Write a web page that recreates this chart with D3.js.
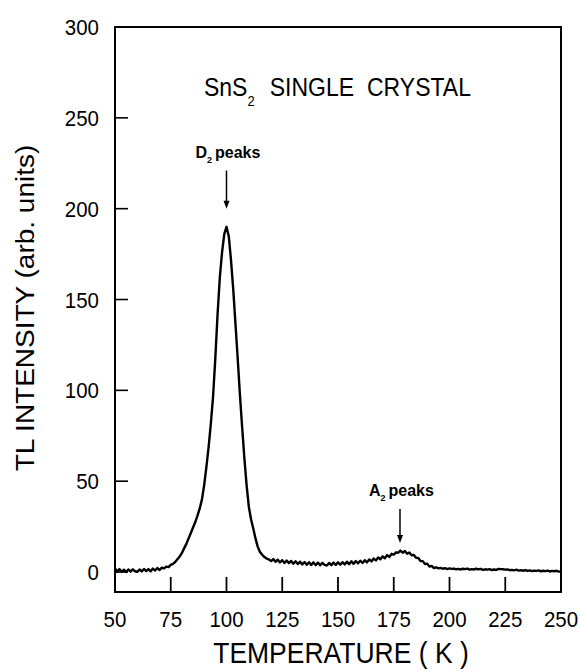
<!DOCTYPE html>
<html>
<head>
<meta charset="utf-8">
<script src="https://cdn.jsdelivr.net/npm/d3@7"></script>
<style>
  body { margin: 0; background: #fff; }
  svg text { font-family: "Liberation Sans", Arial, Helvetica, sans-serif; fill: #000; }
</style>
</head>
<body>
<svg id="chart" width="580" height="671"></svg>
<script>
// TL glow curve, one reading per kelvin starting at 50 K
var tempStart = 50, tempStep = 1;
var intensity = [
  2.0, 0.3, 1.6, 0.1, 1.3, 0.0, 1.4, 0.2, 1.5, 0.4,
  0.1, 1.4, 0.3, 1.7, 0.5, 1.6, 0.4, 1.9, 0.8, 2.2,
  1.1, 2.4, 2.0, 3.0, 2.7, 3.9, 4.5, 5.5, 7.0, 8.5,
  10.5, 13.0, 15.5, 18.5, 21.5, 24.5, 27.5, 31.0, 35.0, 40.0,
  48.0, 58.0, 69.0, 82.0, 97.0, 118.0, 142.0, 162.0, 176.0, 186.0,
  190.0, 185.0, 172.0, 156.0, 137.0, 118.0, 98.0, 80.0, 63.0, 48.0,
  36.0, 29.0, 24.0, 18.5, 14.0, 11.0, 9.5, 8.2, 7.4, 6.9,
  6.0, 7.1, 5.6, 6.8, 5.3, 6.5, 5.0, 6.3, 4.9, 6.1,
  4.6, 5.9, 4.4, 5.7, 4.2, 5.5, 4.0, 5.4, 3.9, 5.3,
  3.8, 5.2, 3.7, 5.0, 3.9, 3.6, 5.0, 3.8, 5.2, 3.9,
  5.3, 4.0, 5.4, 4.2, 5.7, 4.3, 5.9, 4.5, 6.0, 4.8,
  6.2, 5.0, 6.5, 5.3, 6.9, 5.8, 7.4, 6.4, 8.0, 7.0,
  8.6, 7.6, 9.3, 8.3, 10.0, 9.5, 10.8, 10.6, 11.8, 10.6,
  11.6, 10.1, 10.7, 9.2, 9.4, 7.8, 7.7, 6.1, 6.0, 4.4,
  4.6, 3.0, 3.4, 2.2, 2.6, 2.0, 2.3, 1.8, 2.1, 1.6,
  2.0, 1.7, 1.9, 1.5, 1.7, 1.4, 1.8, 1.6, 1.9, 1.3,
  1.6, 1.4, 1.8, 1.5, 1.7, 1.2, 1.5, 1.3, 1.6, 1.1,
  1.4, 1.2, 1.7, 1.6, 1.5, 1.3, 1.4, 1.0, 1.2, 0.9,
  1.3, 0.8, 1.0, 0.7, 1.1, 0.6, 0.9, 0.5, 0.8, 0.6,
  0.9, 0.4, 0.7, 0.5, 0.8, 0.3, 0.6, 0.4, 0.7, 0.2,
  0.3
];
var xTicks = [50, 75, 100, 125, 150, 175, 200, 225, 250];
var yTicks = [0, 50, 100, 150, 200, 250, 300];
// arrow annotations: temperature, arrow top and tip (intensity units)
var peakNames = ["D", "A"];
var peakTemps = [100, 177.8];
var arrowTop = [221, 34.7];
var arrowTip = [200, 16];

(function () {
  "use strict";
  var svg = d3.select('#chart');
  var stretch = 1.12; // the scanned figure is a bit taller than wide

  var x = d3.scaleLinear().domain([50, 250]).range([115, 561]);
  var y = d3.scaleLinear().domain([-11, 300]).range([592, 27]);

  var points = intensity.map(function (v, i) { return [tempStart + i * tempStep, v]; });

  // frame
  svg.append('rect')
      .attr('x', x(50)).attr('y', y(300))
      .attr('width', x(250) - x(50)).attr('height', y(-11) - y(300))
      .attr('fill', 'none').attr('stroke', '#000').attr('stroke-width', 2);

  // inward ticks
  svg.selectAll('.xtick').data(xTicks).enter().append('line')
      .attr('class', 'xtick')
      .attr('x1', function (d) { return x(d); }).attr('x2', function (d) { return x(d); })
      .attr('y1', y(-11)).attr('y2', y(-11) - 15)
      .attr('stroke', '#000').attr('stroke-width', 1.8);
  svg.selectAll('.ytick').data(yTicks.slice(0, -1)).enter().append('line')
      .attr('class', 'ytick')
      .attr('x1', x(50)).attr('x2', x(50) + 13)
      .attr('y1', function (d) { return y(d); }).attr('y2', function (d) { return y(d); })
      .attr('stroke', '#000').attr('stroke-width', 1.6);

  // tick labels
  svg.selectAll('.xlab').data(xTicks).enter().append('text')
      .attr('class', 'xlab')
      .attr('transform', function (d) { return 'translate(' + x(d) + ',627) scale(1,' + stretch + ')'; })
      .attr('text-anchor', 'middle')
      .style('font-size', '20.5px')
      .text(function (d) { return d; });
  svg.selectAll('.ylab').data(yTicks).enter().append('text')
      .attr('class', 'ylab')
      .attr('transform', function (d) { return 'translate(99,' + (y(d) + 8) + ') scale(1,' + stretch + ')'; })
      .attr('text-anchor', 'end')
      .style('font-size', '20.5px')
      .text(function (d) { return d; });

  // axis titles
  svg.append('text')
      .attr('transform', 'translate(341,663) scale(1,' + stretch + ')')
      .attr('text-anchor', 'middle')
      .style('font-size', '26.5px')
      .text('TEMPERATURE ( K )');
  svg.append('text')
      .attr('transform', 'translate(34,308) rotate(-90) scale(' + stretch + ',1)')
      .attr('text-anchor', 'middle')
      .style('font-size', '25px')
      .text('TL INTENSITY (arb. units)');

  // chart title with subscript
  var title = svg.append('text')
      .attr('transform', 'translate(204,96) scale(1,' + stretch + ')')
      .style('font-size', '23px');
  title.append('tspan').text('SnS');
  title.append('tspan').attr('dy', 9).style('font-size', '13px').text('2');
  title.append('tspan').attr('dy', -9).attr('dx', 15).text('SINGLE');
  title.append('tspan').attr('dx', 13).text('CRYSTAL');

  // glow curve
  var line = d3.line()
      .x(function (d) { return x(d[0]); })
      .y(function (d) { return y(d[1]); });
  svg.append('path')
      .datum(points)
      .attr('d', line)
      .attr('fill', 'none')
      .attr('stroke', '#000')
      .attr('stroke-width', 2.4)
      .attr('stroke-linejoin', 'round');

  // peak arrows and labels
  peakNames.forEach(function (name, i) {
    var px = x(peakTemps[i]), top = y(arrowTop[i]), tip = y(arrowTip[i]);
    svg.append('line')
        .attr('x1', px).attr('x2', px)
        .attr('y1', top).attr('y2', tip - 6)
        .attr('stroke', '#000').attr('stroke-width', 1.5);
    svg.append('path')
        .attr('d', 'M' + (px - 3) + ',' + (tip - 8) + 'L' + (px + 3) + ',' + (tip - 8) + 'L' + px + ',' + tip + 'Z')
        .attr('fill', '#000');
    var lab = svg.append('text')
        .attr('transform', 'translate(' + (px - 31) + ',' + (top - 13) + ') scale(1,1.05)')
        .style('font-size', '16px')
        .style('font-weight', 'bold');
    lab.append('tspan').text(name);
    lab.append('tspan').attr('dy', 5).style('font-size', '9px').text('2');
    lab.append('tspan').attr('dy', -5).attr('dx', 3).text('peaks');
  });
}());
</script>
</body>
</html>
